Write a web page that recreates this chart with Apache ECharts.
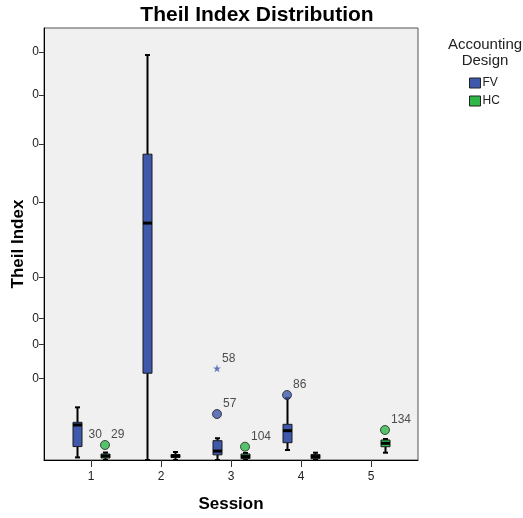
<!DOCTYPE html>
<html><head><meta charset="utf-8">
<script src="https://cdn.jsdelivr.net/npm/echarts@6/dist/echarts.min.js"></script>
<style>html,body{margin:0;padding:0;background:#fff}#c{width:523px;height:518px}</style>
</head><body><div id="c"></div>
<script>
const sessions = [1, 2, 3, 4, 5];
const groupNames = ['FV', 'HC'];
// [min, q1, median, q3, max] per session; null = no data
const fvStats = [
  [0.00001, 0.00027, 0.00184, 0.00213, 0.00416],
  [0.0, 0.0113, 0.0842, 0.1403, 0.2461],
  [0.0, 0.00004, 0.00012, 0.00056, 0.00071],
  [0.00015, 0.00045, 0.00129, 0.00191, 0.00576],
  null
];
const hcStats = [
  [0.0, 0.000006, 0.000024, 0.000054, 0.000084],
  [0.0, 0.000009, 0.000024, 0.000045, 0.000096],
  [0.0, 0.000003, 0.000018, 0.000054, 0.000073],
  [0.0, 0.000003, 0.000018, 0.000045, 0.00008],
  [0.00008, 0.000265, 0.000418, 0.0006, 0.00066]
];
// outliers: [session, value, case label, kind]
const fvOutliers = [
  [1, 0.00034, '30', 'hidden'],
  [3, 0.00317, '57', 'circle'],
  [3, 0.0126, '58', 'star'],
  [4, 0.00634, '86', 'circle']
];
const hcOutliers = [
  [1, 0.000337, '29', 'circle'],
  [3, 0.000265, '104', 'circle'],
  [5, 0.00135, '134', 'circle']
];
const yTickValues = [0.01, 0.02, 0.03, 0.05, 0.10, 0.15, 0.20, 0.25];
const yMax = 0.28;

const colors = { FV: '#3E58AC', HC: '#2EB848' };
const groupOffset = { FV: -0.2, HC: 0.2 };
const FONT = 'Arial, "Liberation Sans", sans-serif';
const tr = v => Math.sqrt(v); // square-root scale

const starPath = 'path://M50,0 L61,35 L98,35 L68,57 L79,91 L50,70 L21,91 L32,57 L2,35 L39,35 Z';

function boxSeries(name, stats) {
  const data = [];
  stats.forEach((s, i) => {
    if (!s) return;
    data.push([sessions[i] + groupOffset[name]].concat(s.map(tr)));
  });
  return {
    type: 'custom', name, data, z: 3,
    itemStyle: { color: colors[name] },
    encode: { x: 0, y: [1, 2, 3, 4, 5] },
    renderItem: (params, api) => {
      const x = api.value(0);
      const p = [1, 2, 3, 4, 5].map(d => api.coord([x, api.value(d)]));
      const cx = Math.round(p[0][0]) + 0.5;
      const bw = 9, cw = 5;
      const blk = '#000';
      return {
        type: 'group',
        children: [
          { type: 'line', shape: { x1: cx, y1: p[4][1], x2: cx, y2: p[3][1] }, style: { stroke: blk, lineWidth: 2 } },
          { type: 'line', shape: { x1: cx, y1: p[1][1], x2: cx, y2: p[0][1] }, style: { stroke: blk, lineWidth: 2 } },
          { type: 'line', shape: { x1: cx - cw / 2, y1: p[4][1], x2: cx + cw / 2, y2: p[4][1] }, style: { stroke: blk, lineWidth: 2 } },
          { type: 'line', shape: { x1: cx - cw / 2, y1: p[0][1], x2: cx + cw / 2, y2: p[0][1] }, style: { stroke: blk, lineWidth: 2 } },
          { type: 'rect', shape: { x: cx - bw / 2, y: p[3][1], width: bw, height: Math.max(p[1][1] - p[3][1], 1) },
            style: { fill: colors[name], stroke: '#1a1a1a', lineWidth: 1 } },
          { type: 'line', shape: { x1: cx - bw / 2, y1: p[2][1], x2: cx + bw / 2, y2: p[2][1] }, style: { stroke: blk, lineWidth: 3 } }
        ]
      };
    }
  };
}

function outlierSeries(name, outs) {
  return {
    type: 'scatter', name, z: 4,
    itemStyle: { color: colors[name], borderColor: '#222', borderWidth: 1 },
    label: { show: true, position: 'right', distance: 1, offset: [0, -10],
      formatter: p => p.data.caseLabel, color: '#222', fontSize: 12, fontFamily: FONT },
    data: outs.map(o => {
      const item = { value: [o[0] + groupOffset[name], tr(o[1])], caseLabel: o[2] };
      if (o[3] === 'star') {
        item.symbol = starPath; item.symbolSize = 8;
        item.itemStyle = { color: colors[name], borderWidth: 0 };
      } else if (o[3] === 'hidden') {
        item.symbol = 'circle'; item.symbolSize = 9;
        item.itemStyle = { color: 'rgba(0,0,0,0)', borderColor: 'rgba(0,0,0,0)', borderWidth: 0 };
        item.label = { offset: [6, -10] };
      } else {
        item.symbol = 'circle'; item.symbolSize = 9;
      }
      return item;
    })
  };
}

const chart = echarts.init(document.getElementById('c'), null, { renderer: 'canvas' });
chart.setOption({
  backgroundColor: '#fff',
  animation: false,
  title: {
    text: 'Theil Index Distribution', left: 252, top: 0, textAlign: 'center',
    textStyle: { fontFamily: FONT, fontSize: 21, fontWeight: 'bold', color: '#000' }
  },
  grid: {
    left: 44, right: 105, top: 28, bottom: 58, show: true, outerBoundsMode: 'none', containLabel: false,
    backgroundColor: '#F0F0F0', borderColor: '#555', borderWidth: 1
  },
  legend: {
    orient: 'vertical', left: 469, top: 77, itemWidth: 11, itemHeight: 10, itemGap: 6,
    padding: 0,
    textStyle: { fontFamily: FONT, fontSize: 12, color: '#222', padding: [0, 0, 0, -3] },
    data: groupNames.map(n => ({ name: n, icon: 'rect', itemStyle: { color: colors[n], borderColor: '#222', borderWidth: 1 } }))
  },
  graphic: [{
    type: 'text', x: 485, y: 37,
    style: { text: 'Accounting\nDesign', fontFamily: FONT, fontSize: 15, lineHeight: 16, fill: '#222', align: 'center', verticalAlign: 'top' }
  }],
  xAxis: {
    type: 'value', min: 1 - 47 / 70, max: 5 + 47 / 70,
    name: 'Session', nameLocation: 'middle', nameGap: 36,
    nameTextStyle: { fontFamily: FONT, fontSize: 17, fontWeight: 'bold', color: '#000' },
    axisLine: { show: true, lineStyle: { color: '#000', width: 1 } },
    axisTick: { show: true, length: 7, customValues: sessions, lineStyle: { color: '#333' } },
    axisLabel: { customValues: sessions, margin: 11, fontFamily: FONT, fontSize: 12, color: '#222' },
    splitLine: { show: false }
  },
  yAxis: {
    type: 'value', min: 0, max: tr(yMax),
    name: 'Theil Index', nameLocation: 'middle', nameGap: 17, nameRotate: 90, nameMoveOverlap: false,
    nameTextStyle: { fontFamily: FONT, fontSize: 17, fontWeight: 'bold', color: '#000' },
    axisLine: { show: true, lineStyle: { color: '#000', width: 1 } },
    axisTick: { show: true, length: 5, customValues: yTickValues.map(tr), lineStyle: { color: '#333' } },
    axisLabel: { customValues: yTickValues.map(tr), margin: 5, fontFamily: FONT, fontSize: 12, color: '#222',
      formatter: v => (v * v).toFixed(0) },
    splitLine: { show: false }
  },
  series: [
    boxSeries('FV', fvStats),
    boxSeries('HC', hcStats),
    outlierSeries('FV', fvOutliers),
    outlierSeries('HC', hcOutliers)
  ]
});
</script>
</body></html>
